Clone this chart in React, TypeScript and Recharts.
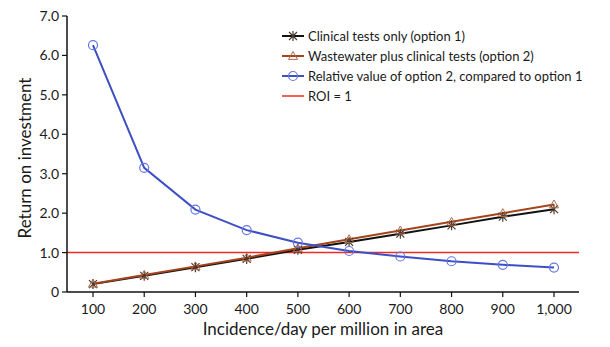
import React from 'react';
import {
  LineChart,
  Line,
  XAxis,
  YAxis,
  ReferenceLine,
} from 'recharts';

const incidence = [100, 200, 300, 400, 500, 600, 700, 800, 900, 1000];
const clinicalOnly = [0.2, 0.41, 0.63, 0.84, 1.07, 1.27, 1.48, 1.69, 1.91, 2.1];
const wastewaterPlus = [0.21, 0.43, 0.65, 0.87, 1.11, 1.34, 1.56, 1.78, 2.0, 2.22];
const relativeValue = [6.26, 3.15, 2.09, 1.57, 1.25, 1.04, 0.9, 0.78, 0.69, 0.62];
const yTicks = [0, 1, 2, 3, 4, 5, 6, 7];
const roi = 1;

const data = incidence.map((x, i) => ({
  incidence: x,
  clinical: clinicalOnly[i],
  wastewater: wastewaterPlus[i],
  relative: relativeValue[i],
}));

const FONT = 'Lato, "Open Sans", sans-serif';
const BLACK = '#111111';
const BROWN = '#a5431c';
const BLUE = '#3d4fc4';
const BLUE_MARK = '#6676e6';
const RED = '#ee2b22';

const StarDot = (props: any) => {
  const { cx, cy, index } = props;
  if (cx == null || cy == null) return null;
  const s = 4;
  return (
    <path
      key={`star-${index}`}
      d={`M${cx - s},${cy - s}L${cx + s},${cy + s}M${cx - s},${cy + s}L${cx + s},${cy - s}M${cx},${cy - s - 1}L${cx},${cy + s + 1}`}
      stroke="#4a3a30"
      strokeWidth={1.2}
      fill="none"
    />
  );
};

const TriangleDot = (props: any) => {
  const { cx, cy, index } = props;
  if (cx == null || cy == null) return null;
  const s = 4.5;
  return (
    <path
      key={`tri-${index}`}
      d={`M${cx},${cy - s}L${cx + s},${cy + s * 0.75}L${cx - s},${cy + s * 0.75}Z`}
      stroke="#b06a45"
      strokeWidth={1}
      fill="none"
    />
  );
};

const CircleDot = (props: any) => {
  const { cx, cy, index } = props;
  if (cx == null || cy == null) return null;
  return (
    <circle
      key={`circ-${index}`}
      cx={cx}
      cy={cy}
      r={4.5}
      stroke={BLUE_MARK}
      strokeWidth={1.2}
      fill="none"
    />
  );
};

const legendItems = [
  { label: 'Clinical tests only (option 1)', color: BLACK, marker: 'star' },
  { label: 'Wastewater plus clinical tests (option 2)', color: BROWN, marker: 'tri' },
  { label: 'Relative value of option 2, compared to option 1', color: BLUE, marker: 'circle' },
  { label: 'ROI = 1', color: RED, marker: 'none' },
];

function ChartLegend() {
  return (
    <div
      style={{
        position: 'absolute',
        left: 282,
        top: 26,
        fontFamily: FONT,
        fontSize: 13,
        color: '#1a1a1a',
        whiteSpace: 'nowrap',
      }}
    >
      {legendItems.map((item) => (
        <div key={item.label} style={{ display: 'flex', alignItems: 'center', height: 20 }}>
          <svg width={22} height={12} style={{ marginRight: 4 }}>
            <line x1={0} y1={6} x2={22} y2={6} stroke={item.color} strokeWidth={item.marker === 'none' ? 1.5 : 2} />
            {item.marker === 'star' && <StarDot cx={11} cy={6} index={0} />}
            {item.marker === 'tri' && <TriangleDot cx={11} cy={6} index={0} />}
            {item.marker === 'circle' && <CircleDot cx={11} cy={6} index={0} />}
          </svg>
          <span>{item.label}</span>
        </div>
      ))}
    </div>
  );
}

const YLabel = (props: any) => {
  const { viewBox } = props;
  const x = viewBox.x + 24;
  const y = viewBox.y + viewBox.height / 2 + 4;
  return (
    <text
      x={x}
      y={y}
      transform={`rotate(-90, ${x}, ${y})`}
      textAnchor="middle"
      dominantBaseline="central"
      fontFamily={FONT}
      fontSize={17}
      fill="#1a1a1a"
    >
      Return on investment
    </text>
  );
};

export default function App() {
  return (
    <div style={{ position: 'absolute', left: 0, top: 0, width: 610, height: 347, background: '#fff' }}>
      <LineChart
        width={610}
        height={347}
        data={data}
        margin={{ top: 16, right: 31, bottom: 0, left: 0 }}
      >
        <XAxis
          dataKey="incidence"
          type="category"
          height={55}
          padding={{ left: 26, right: 25 }}
          tickSize={5}
          tickMargin={7}
          axisLine={{ stroke: '#111', strokeWidth: 1.5 }}
          tickLine={{ stroke: '#111', strokeWidth: 1.2 }}
          tick={{ fill: '#1a1a1a', fontSize: 14, fontFamily: FONT }}
          tickFormatter={(v: number) => v.toLocaleString('en-US')}
          label={{
            value: 'Incidence/day per million in area',
            position: 'insideBottom',
            offset: 12,
            fill: '#1a1a1a',
            fontSize: 17,
            fontFamily: FONT,
          }}
        />
        <YAxis
          width={67}
          domain={[0, 7]}
          ticks={yTicks}
          interval={0}
          tickSize={5}
          tickMargin={3}
          axisLine={{ stroke: '#111', strokeWidth: 1.5 }}
          tickLine={{ stroke: '#111', strokeWidth: 1.2 }}
          tick={{ fill: '#1a1a1a', fontSize: 14, fontFamily: FONT }}
          tickFormatter={(v: number) => (v === 0 ? '0' : v.toFixed(1))}
          label={<YLabel />}
        />
        <ReferenceLine y={roi} stroke={RED} strokeWidth={1.5} ifOverflow="extendDomain" />
        <Line
          dataKey="clinical"
          stroke={BLACK}
          strokeWidth={2}
          dot={<StarDot />}
          activeDot={false}
          isAnimationActive={false}
        />
        <Line
          dataKey="wastewater"
          stroke={BROWN}
          strokeWidth={2}
          dot={<TriangleDot />}
          activeDot={false}
          isAnimationActive={false}
        />
        <Line
          dataKey="relative"
          stroke={BLUE}
          strokeWidth={2}
          dot={<CircleDot />}
          activeDot={false}
          isAnimationActive={false}
        />
      </LineChart>
      <ChartLegend />
    </div>
  );
}
